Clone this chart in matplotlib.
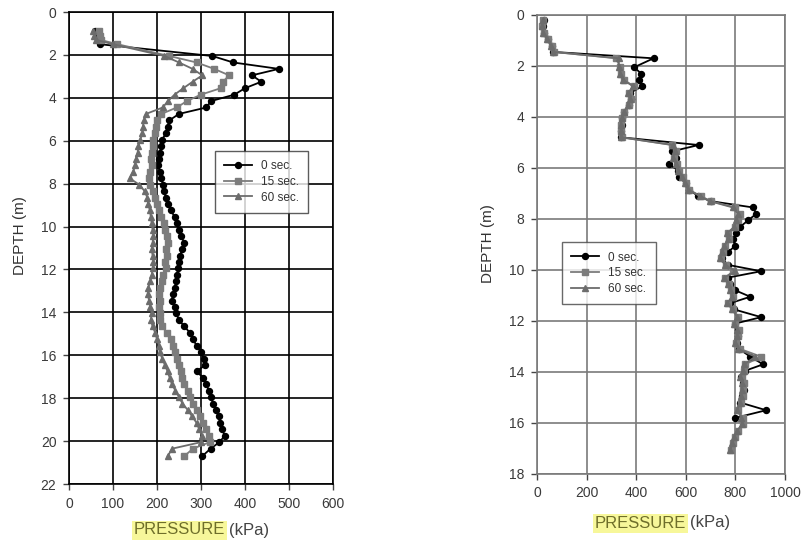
import matplotlib
matplotlib.use("Agg")
import matplotlib.pyplot as plt

plt.rcParams['font.family'] = ['Liberation Sans', 'DejaVu Sans']

nan = float("nan")

# ---- left profile (depth in m, pressure in kPa) ----
depth_left = [0.9, 1.1, 1.3, 1.5,
              2.05, 2.35, 2.65, 2.95, 3.25, 3.55, 3.85, 4.15, 4.45, 4.75,
              5.05, 5.35, 5.65, 5.95, 6.25, 6.55, 6.85, 7.15, 7.45, 7.75,
              8.05, 8.35, 8.65, 8.95, 9.25, 9.55, 9.85, 10.15, 10.45, 10.75,
              11.05, 11.35, 11.65, 11.95, 12.25, 12.55, 12.85, 13.15, 13.45, 13.75,
              14.05, 14.35, 14.65, 14.95, 15.25, 15.55, 15.85, 16.15, 16.45, 16.75,
              17.05, 17.35, 17.65, 17.95, 18.25, 18.55, 18.85, 19.15, 19.45, 19.75,
              20.05, 20.35, 20.7]
left_0s = [60, 62, 66, 70,
           326, 373, 477, 416, 437, 400, 376, 323, 312, 250,
           228, 224, 220, 212, 210, 207, 204, 203, 206, 210,
           214, 216, 220, 226, 232, 240, 246, 250, 255, 262,
           258, 252, 250, 248, 246, 244, 240, 236, 234, 240,
           244, 250, 262, 275, 282, 290, 300, 306, 310, 290,
           305, 312, 318, 322, 328, 334, 340, 344, 348, 354,
           342, 322, 303]
left_15s = [68, 70, 72, 110,
            228, 290, 330, 364, 350, 345, 300, 268, 245, 210,
            200, 198, 196, 192, 190, 188, 186, 188, 185, 183,
            185, 190, 195, 200, 205, 210, 215, 218, 222, 224,
            220, 222, 218, 220, 214, 212, 208, 205, 206, 204,
            206, 206, 212, 222, 232, 236, 240, 246, 250, 255,
            258, 262, 270, 276, 282, 290, 298, 305, 312, 318,
            320, 282, 262]
left_60s = [54, 58, 62, 100,
            217, 250, 281, 303, 281, 260, 240, 225, 213, 175,
            170, 168, 167, 162, 158, 156, 152, 150, 146, 138,
            160, 172, 178, 180, 184, 186, 188, 190, 192, 190,
            188, 190, 192, 190, 188, 185, 180, 179, 182, 185,
            188, 186, 190, 196, 200, 205, 206, 212, 218, 224,
            229, 234, 242, 250, 258, 270, 280, 290, 296, 302,
            300, 235, 224]

# ---- right profile ----
depth_right = [0.2, 0.45, 0.7, 0.95, 1.2, 1.45, 1.7,
               2.05, 2.3, 2.55, 2.8, 3.05, 3.3, 3.55, 3.8, 4.05, 4.3, 4.55, 4.8,
               5.1, 5.35, 5.6, 5.85, 6.1, 6.35, 6.6, 6.85, 7.1, 7.3,
               7.55, 7.8, 8.05, 8.3, 8.55, 8.8, 9.05, 9.3, 9.55, 9.8,
               10.05, 10.3, 10.55, 10.8, 11.05, 11.3, 11.55, 11.85, 12.1, 12.35,
               12.6, 12.85, 13.1, 13.4, 13.7, 13.95, 14.2, 14.45, 14.7, 14.95,
               15.2, 15.5, 15.8, 16.05, 16.3, 16.55, 16.8, 17.05]
right_0s = [28, 24, 30, 44, 60, 66, 470,
            392, 420, 412, 424, 376, 380, 372, 352, 344, 342, 340, 340,
            652, 544, 560, 532, 570, 572, 600, 612, 650, 700,
            872, 884, 852, 820, 804, 790, 800, 770, 745, 770,
            904, 770, 780, 800, 860, 780, 796, 904, 800, 810,
            812, 806, 816, 860, 912, 840, 824, 830, 836, 828,
            820, 924, 800, nan, nan, nan, nan, nan]
right_15s = [26, 22, 28, 46, 62, 70, 320,
             335, 340, 350, 392, 372, 380, 372, 352, 344, 340, 340, 342,
             544, 560, 552, 564, 572, 588, 600, 612, 660, 700,
             800, 820, 812, 800, 772, 776, 760, 752, 740, 764,
             790, 760, 776, 784, 790, 772, 792, 812, 800, 816,
             812, 804, 820, 904, 840, 836, 828, 836, 832, 830,
             824, 812, 830, 832, 812, 800, 792, 784]
right_60s = [24, 20, 26, 40, 56, 64, 330,
             330, 336, 348, 388, 368, 376, 368, 350, 342, 338, 338, 340,
             550, 556, 548, 560, 568, 584, 596, 610, 656, 696,
             790, 810, 804, 796, 768, 772, 756, 748, 736, 760,
             800, 756, 772, 780, 786, 768, 788, 808, 796, 808,
             806, 800, 812, 880, 836, 830, 820, 828, 826, 824,
             818, 808, 824, 828, 806, 796, 788, 780]

series_labels = ["0 sec.", "15 sec.", "60 sec."]

fig = plt.figure(figsize=(8.01, 5.42), dpi=100)
fig.patch.set_facecolor("white")

styles = [dict(color="black", marker="o", markersize=4.3),
          dict(color="#7c7c7c", marker="s", markersize=4),
          dict(color="#6c6c6c", marker="^", markersize=4.5)]


def setup_axes(ax, xmax, xstep, ymax, gridcol):
    ax.set_xlim(0, xmax)
    ax.set_ylim(ymax, 0)
    ax.set_xticks(range(0, xmax + 1, xstep))
    ax.set_yticks(range(0, ymax + 1, 2))
    ax.grid(True, color=gridcol, linewidth=1.2)
    ax.set_axisbelow(True)
    for s in ax.spines.values():
        s.set_color(gridcol)
        s.set_linewidth(1.2)
    ax.tick_params(colors="#444444", labelsize=10, length=4, width=1,
                   direction="out", pad=5)
    for lab in ax.get_xticklabels() + ax.get_yticklabels():
        lab.set_color("#3a3a3a")


# left chart
ax1 = fig.add_axes([0.0861, 0.107, 0.3296, 0.8708])
for vals, lab, st in zip([left_0s, left_15s, left_60s], series_labels, styles):
    ax1.plot(vals, depth_left, label=lab, linewidth=1.3, **st)
setup_axes(ax1, 600, 100, 22, "black")
leg1 = ax1.legend(loc="upper left", bbox_to_anchor=(0.553, 0.7055), fontsize=8.5,
                  frameon=True, fancybox=False, edgecolor="#333333",
                  handlelength=2.3, borderpad=0.8, labelspacing=0.3,
                  borderaxespad=0)
leg1.get_frame().set_linewidth(1.0)
for t in leg1.get_texts():
    t.set_color("#333333")

# right chart
ax2 = fig.add_axes([0.6704, 0.1255, 0.3096, 0.8469])
for vals, lab, st in zip([right_0s, right_15s, right_60s], series_labels, styles):
    ax2.plot(vals, depth_right, label=lab, linewidth=1.3, **st)
setup_axes(ax2, 1000, 200, 18, "#7a7a7a")
leg2 = ax2.legend(loc="upper left", bbox_to_anchor=(0.101, 0.505), fontsize=8.5,
                  frameon=True, fancybox=False, edgecolor="#444444",
                  handlelength=2.3, borderpad=0.8, labelspacing=0.3,
                  borderaxespad=0)
leg2.get_frame().set_linewidth(1.0)
for t in leg2.get_texts():
    t.set_color("#333333")

# axis titles
fig.text(20 / 801, 1 - 236 / 542, "DEPTH (m)", rotation=90, ha="center",
         va="center", fontsize=11, color="#333333")
fig.text(488 / 801, 1 - 244 / 542, "DEPTH (m)", rotation=90, ha="center",
         va="center", fontsize=11, color="#333333")

hl = dict(facecolor="#f7f79a", edgecolor="none", pad=1.5)
fig.text(225 / 801, 1 - 530 / 542, "PRESSURE", ha="right", va="center",
         fontsize=12, color="#6e6e2a", bbox=hl)
fig.text(229 / 801, 1 - 530 / 542, "(kPa)", ha="left", va="center",
         fontsize=12, color="#444444")
fig.text(686 / 801, 1 - 523 / 542, "PRESSURE", ha="right", va="center",
         fontsize=12, color="#6e6e2a", bbox=hl)
fig.text(690 / 801, 1 - 523 / 542, "(kPa)", ha="left", va="center",
         fontsize=12, color="#444444")

fig.savefig("out.png", dpi=100)
